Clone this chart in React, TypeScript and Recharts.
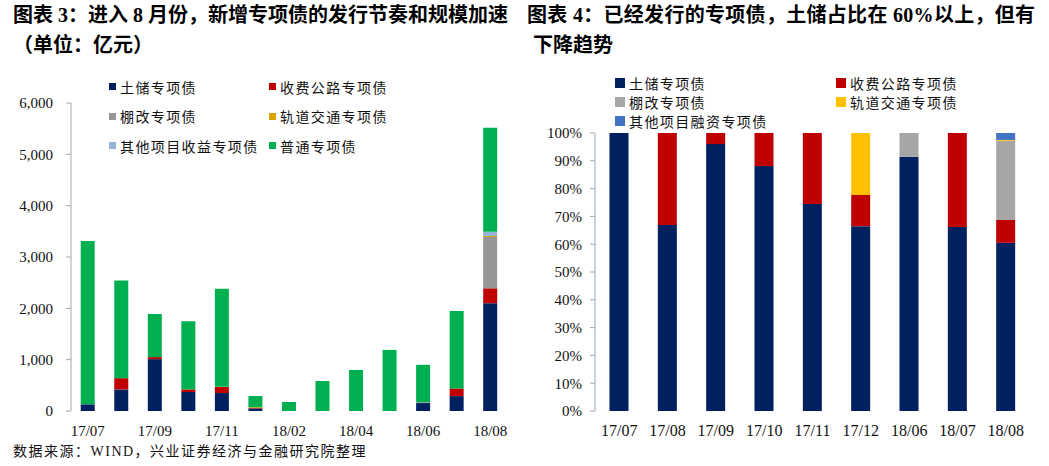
import React from 'react';
import { BarChart, Bar, XAxis, YAxis, Legend } from 'recharts';

// left chart: monthly issuance, 亿元
const monthsA = ['17/07', '17/08', '17/09', '17/10', '17/11', '17/12', '18/02', '18/03', '18/04', '18/05', '18/06', '18/07', '18/08'];
const landA = [130, 420, 1010, 370, 350, 50, 0, 0, 0, 0, 155, 290, 2100];
const tollA = [0, 220, 40, 50, 120, 8, 0, 0, 0, 0, 0, 150, 290];
const shantyA = [0, 0, 0, 0, 0, 0, 0, 0, 0, 0, 15, 0, 1000];
const railA = [0, 0, 0, 0, 0, 17, 0, 0, 0, 0, 0, 0, 20];
const otherA = [0, 0, 0, 0, 0, 0, 0, 0, 0, 0, 0, 0, 80];
const generalA = [3180, 1900, 840, 1330, 1910, 217, 175, 585, 800, 1190, 730, 1510, 2030];
const ticksA = [0, 1000, 2000, 3000, 4000, 5000, 6000];

// right chart: share of each type, %
const monthsB = ['17/07', '17/08', '17/09', '17/10', '17/11', '17/12', '18/06', '18/07', '18/08'];
const landB = [100, 66.9, 96.0, 88.1, 74.5, 66.5, 91.4, 66.2, 60.5];
const tollB = [0, 33.1, 4.0, 11.9, 25.5, 11.2, 0, 33.8, 8.2];
const shantyB = [0, 0, 0, 0, 0, 0, 8.6, 0, 28.5];
const railB = [0, 0, 0, 0, 0, 22.3, 0, 0, 0.3];
const otherB = [0, 0, 0, 0, 0, 0, 0, 0, 2.5];
const ticksB = [0, 10, 20, 30, 40, 50, 60, 70, 80, 90, 100];

const seriesA = [
  { key: 'land', name: '土储专项债', color: '#002060', values: landA },
  { key: 'toll', name: '收费公路专项债', color: '#C00000', values: tollA },
  { key: 'shanty', name: '棚改专项债', color: '#969696', values: shantyA },
  { key: 'rail', name: '轨道交通专项债', color: '#DDA400', values: railA },
  { key: 'other', name: '其他项目收益专项债', color: '#95B3D7', values: otherA },
  { key: 'general', name: '普通专项债', color: '#00B050', values: generalA },
];

const seriesB = [
  { key: 'land', name: '土储专项债', color: '#002060', values: landB },
  { key: 'toll', name: '收费公路专项债', color: '#C00000', values: tollB },
  { key: 'shanty', name: '棚改专项债', color: '#A6A6A6', values: shantyB },
  { key: 'rail', name: '轨道交通专项债', color: '#FFC000', values: railB },
  { key: 'other', name: '其他项目融资专项债', color: '#4472C4', values: otherB },
];

const dataA = monthsA.map((m, i) => {
  const row: any = { month: m };
  seriesA.forEach(s => { row[s.key] = s.values[i]; });
  return row;
});
const dataB = monthsB.map((m, i) => {
  const row: any = { month: m };
  seriesB.forEach(s => { row[s.key] = s.values[i]; });
  return row;
});

const serif = "'Times New Roman', 'Liberation Serif', serif";
const cjk = "'Liberation Serif', 'Noto Sans CJK SC', sans-serif";

function LegendGrid({ items, cols, rowH, box }: { items: { name: string, color: string }[], cols: number[], rowH: number, box: number }) {
  return (
    <div style={{ position: 'relative', width: 420, height: rowH * 3 }}>
      {items.map((it, i) => (
        <div key={it.name} style={{
          position: 'absolute', left: cols[i % 2], top: Math.floor(i / 2) * rowH,
          height: rowH, display: 'flex', alignItems: 'center', whiteSpace: 'nowrap',
        }}>
          <span style={{ width: box, height: box, background: it.color, display: 'inline-block', marginRight: 4 }} />
          <span style={{ fontFamily: cjk, fontSize: 14, letterSpacing: 1.4, color: '#111' }}>{it.name}</span>
        </div>
      ))}
    </div>
  );
}

function edgeTicks(n: number) {
  return Array.from({ length: n + 1 }, (_, i) => i);
}

function LeftChart() {
  return (
    <BarChart width={525} height={466} data={dataA} barCategoryGap="29%"
      margin={{ top: 103, right: 18, left: 0, bottom: 25 }}>
      <XAxis xAxisId="edge" type="number" domain={[0, monthsA.length]} ticks={edgeTicks(monthsA.length)}
        tick={false} height={0} mirror tickSize={5}
        axisLine={{ stroke: '#A6A6A6' }} tickLine={{ stroke: '#A6A6A6' }} />
      <XAxis xAxisId="cat" dataKey="month" interval={1} height={30} axisLine={false} tickLine={false}
        tickMargin={8} tick={{ fontFamily: serif, fontSize: 15, fill: '#111' }} />
      <YAxis width={71} domain={[0, 6000]} ticks={ticksA} tickSize={5} tickMargin={13}
        tickFormatter={(v: number) => v.toLocaleString('en-US')}
        axisLine={{ stroke: '#A6A6A6' }} tickLine={{ stroke: '#A6A6A6' }}
        tick={{ fontFamily: serif, fontSize: 15, fill: '#111' }} />
      <Legend layout="vertical" align="center" verticalAlign="middle"
        wrapperStyle={{ left: 109, top: 72, width: 420 }}
        content={() => <LegendGrid items={seriesA} cols={[0, 160]} rowH={29.5} box={7} />} />
      {seriesA.map(s => (
        <Bar key={s.key} xAxisId="cat" dataKey={s.key} name={s.name} stackId="a" fill={s.color} isAnimationActive={false} />
      ))}
    </BarChart>
  );
}

function RightChart() {
  return (
    <BarChart width={524} height={466} data={dataB} barCategoryGap="30%"
      margin={{ top: 133, right: 19, left: 0, bottom: 25 }}>
      <XAxis xAxisId="edge" type="number" domain={[0, monthsB.length]} ticks={edgeTicks(monthsB.length)}
        tick={false} height={0} mirror tickSize={5}
        axisLine={{ stroke: '#98A8C0' }} tickLine={{ stroke: '#98A8C0' }} />
      <XAxis xAxisId="cat" dataKey="month" interval={0} height={30} axisLine={false} tickLine={false}
        tickMargin={8} tick={{ fontFamily: serif, fontSize: 16, fill: '#111' }} />
      <YAxis width={70} domain={[0, 100]} ticks={ticksB} tickSize={5} tickMargin={8} allowDataOverflow
        tickFormatter={(v: number) => `${v}%`}
        axisLine={{ stroke: '#98A8C0' }} tickLine={{ stroke: '#98A8C0' }}
        tick={{ fontFamily: serif, fontSize: 15, fill: '#111' }} />
      <Legend layout="vertical" align="center" verticalAlign="middle"
        wrapperStyle={{ left: 90, top: 73, width: 420 }}
        content={() => <LegendGrid items={seriesB} cols={[0, 221]} rowH={19} box={10} />} />
      {seriesB.map(s => (
        <Bar key={s.key} xAxisId="cat" dataKey={s.key} name={s.name} stackId="b" fill={s.color} isAnimationActive={false} />
      ))}
    </BarChart>
  );
}

const titleStyle: React.CSSProperties = {
  position: 'absolute', fontFamily: cjk, fontWeight: 700, fontSize: 20,
  lineHeight: '24px', whiteSpace: 'nowrap', color: '#000',
};

export default function App() {
  return (
    <div style={{ position: 'absolute', left: 0, top: 0, width: 1049, height: 466, background: '#fff', overflow: 'hidden' }}>
      <div style={{ position: 'absolute', left: 0, top: 0 }}><LeftChart /></div>
      <div style={{ position: 'absolute', left: 525, top: 0 }}><RightChart /></div>
      <div style={{ ...titleStyle, left: 13, top: 3 }}>图表 3：进入 8 月份，新增专项债的发行节奏和规模加速</div>
      <div style={{ ...titleStyle, left: 13, top: 33 }}>（单位：亿元）</div>
      <div style={{ ...titleStyle, left: 527, top: 3, letterSpacing: 0.3 }}>图表 4：已经发行的专项债，土储占比在 60%以上，但有</div>
      <div style={{ ...titleStyle, left: 533, top: 33 }}>下降趋势</div>
      <div style={{
        position: 'absolute', left: 13, top: 442, fontFamily: cjk, fontSize: 14,
        letterSpacing: 1.5, lineHeight: '20px', whiteSpace: 'nowrap', color: '#111',
      }}>数据来源：WIND，兴业证券经济与金融研究院整理</div>
    </div>
  );
}
